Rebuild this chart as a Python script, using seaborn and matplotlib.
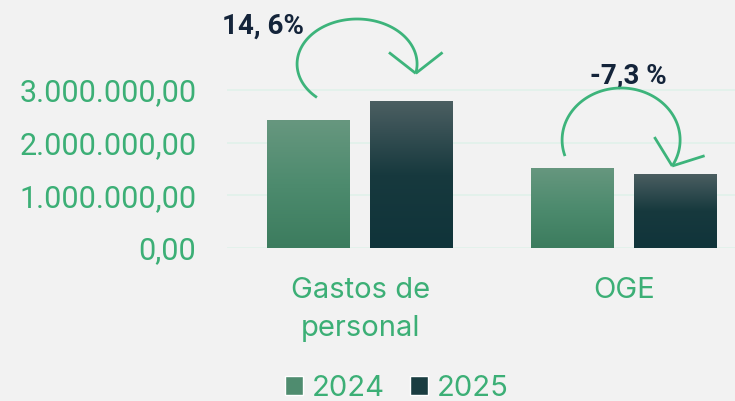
import numpy as np
import pandas as pd
import seaborn as sns
import matplotlib.pyplot as plt
from matplotlib.colors import LinearSegmentedColormap
from matplotlib.patches import Patch
from matplotlib.ticker import FuncFormatter
from matplotlib.transforms import IdentityTransform

# datos
categorias = ["Gastos de\npersonal", "OGE"]
anios = ["2024", "2025"]
valores_2024 = [2430000, 1520000]
valores_2025 = [2790000, 1410000]
etiquetas_var = ["14, 6%", "-7,3 %"]
yticks = [0, 1000000, 2000000, 3000000]

verde = "#3CAF76"
verde_flecha = "#3DB47B"
navy = "#14243A"
fondo = "#F2F2F2"

df = pd.DataFrame({
    "categoria": categorias * 2,
    "anio": np.repeat(anios, len(categorias)),
    "valor": valores_2024 + valores_2025,
})

sns.set_theme(style="white")
plt.rcParams["font.family"] = ["Roboto", "DejaVu Sans"]

fig = plt.figure(figsize=(7.35, 4.01), dpi=100, facecolor=fondo)
ax = fig.add_axes([227 / 735, 153 / 401, 508 / 735, 248 / 401])
ax.set_facecolor(fondo)

sns.barplot(data=df, x="categoria", y="valor", hue="anio", ax=ax,
            width=0.78, gap=0.2, linewidth=0, legend=False,
            palette=["#4F8C6F", "#1A3D41"])

# degradado en cada barra
cmaps = [
    LinearSegmentedColormap.from_list("g24", ["#3C7C5E", "#4D8B6E", "#67977F"]),
    LinearSegmentedColormap.from_list("g25", ["#10343A", "#17393E", "#4C5F62"]),
]
grad = np.linspace(0, 1, 256).reshape(-1, 1)
for cont, cm in zip(ax.containers, cmaps):
    for bar in cont:
        x0, y0 = bar.get_xy()
        w, h = bar.get_width(), bar.get_height()
        im = ax.imshow(grad, extent=[x0, x0 + w, y0, y0 + h], aspect="auto",
                       cmap=cm, origin="lower", zorder=2)
        im.set_clip_path(bar)
        bar.set_facecolor("none")

ax.set_xlim(-0.504, 1.42)
ax.set_ylim(0, 248 / 158 * 3000000)
ax.set_yticks(yticks)
ax.yaxis.set_major_formatter(FuncFormatter(
    lambda v, p: f"{v:,.2f}".replace(",", "X").replace(".", ",").replace("X", ".")))
ax.grid(axis="y", color="#E1F1EA", linewidth=1.2, zorder=0)
ax.set_axisbelow(True)
for s in ax.spines.values():
    s.set_visible(False)
ax.set_xlabel("")
ax.set_ylabel("")
ax.tick_params(axis="y", length=0, pad=22, labelsize=22, labelcolor=verde)
ax.tick_params(axis="x", length=0, pad=21, labelsize=21, labelcolor=verde)
for t in ax.get_xticklabels():
    t.set_family(["Inter", "DejaVu Sans"])
    t.set_linespacing(1.5)


def flecha(ax, i, centro, rx, ry, t0, t1, direccion, largo=34, abertura=52):
    base = ax.transData.transform((i, 0))
    t = np.radians(np.linspace(t0, t1, 120))
    xs = base[0] + centro[0] + rx * np.cos(t)
    ys = base[1] + centro[1] + ry * np.sin(t)
    kw = dict(color=verde_flecha, lw=2.0, transform=IdentityTransform(),
              clip_on=False, solid_capstyle="butt", zorder=5)
    ax.plot(xs, ys, **kw)
    d = -np.array(direccion, float)
    d /= np.hypot(*d)
    for s in (1, -1):
        a = np.radians(s * abertura)
        r = np.array([d[0] * np.cos(a) - d[1] * np.sin(a),
                      d[0] * np.sin(a) + d[1] * np.cos(a)])
        ax.plot([xs[-1], xs[-1] + largo * r[0]], [ys[-1], ys[-1] + largo * r[1]], **kw)


flecha(ax, 0, (-3, 184), 60, 45, 228, -12, (0, -1))
flecha(ax, 1, (-3, 108), 59, 52, 198, -30, (-0.35, -0.94))

for i, (txt, off) in enumerate(zip(etiquetas_var, [(-97, 222), (4, 172)])):
    ax.annotate(txt, xy=(i, 0), xytext=off, textcoords="offset pixels",
                ha="center", va="center", fontsize=20, fontweight="bold",
                color=navy, annotation_clip=False)

handles = [Patch(facecolor="#4F8C6F"), Patch(facecolor="#1A3D41")]
fig.legend(handles, anios, loc="center", bbox_to_anchor=(397 / 735, 13 / 401),
           ncol=2, frameon=False, prop={"family": ["Inter", "DejaVu Sans"], "size": 21},
           labelcolor=verde, handlelength=0.62, handleheight=0.62,
           handletextpad=0.3, columnspacing=0.85, borderpad=0)

fig.savefig("out.png", dpi=100, facecolor=fondo)
